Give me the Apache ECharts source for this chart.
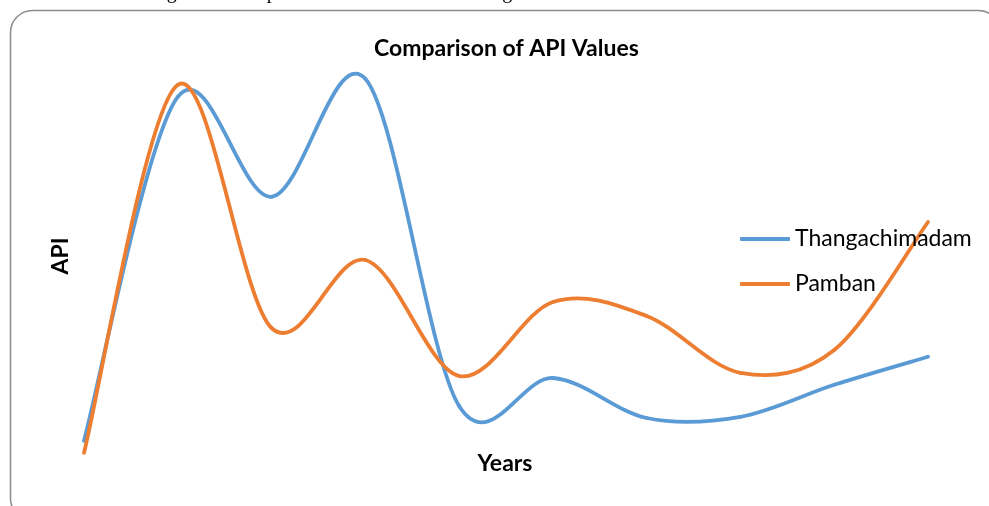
<!DOCTYPE html>
<html>
<head>
    <meta charset="utf-8">
    <script src="https://cdn.jsdelivr.net/npm/echarts@6/dist/echarts.min.js"></script>
    <style>
        html, body { margin: 0; padding: 0; background: #fff; }
    </style>
</head>
<body>
    <div id="main" style="width: 989px;height:506px;"></div>
	<script type="text/javascript">
        // data (no axis values shown, scale is relative 0-100)
        var years = ['1', '2', '3', '4', '5', '6', '7', '8', '9', '10'];
        var thangachimadam = [7.3, 93.3, 68.3, 97.8, 16, 23, 13, 13.3, 21.3, 28.3];
        var pamban = [4.3, 96.3, 35.5, 52.5, 23.5, 42, 38.5, 24.3, 30, 62];

        var colors = ['#5B9BD5', '#ED7D31'];

        // excel-like smoothing: one bezier segment per pair of points (catmull-rom, 1/6)
        function smoothSeries(name, values, color) {
            return {
                name: name,
                type: 'custom',
                data: values.map(function (v, i) { return [i, v]; }),
                itemStyle: { color: color },
                renderItem: function (params, api) {
                    var i = params.dataIndex;
                    var n = values.length;
                    if (i >= n - 1) return null;
                    var p0 = api.coord([Math.max(i - 1, 0), values[Math.max(i - 1, 0)]]);
                    var p1 = api.coord([i, values[i]]);
                    var p2 = api.coord([i + 1, values[i + 1]]);
                    var p3 = api.coord([Math.min(i + 2, n - 1), values[Math.min(i + 2, n - 1)]]);
                    return {
                        type: 'bezierCurve',
                        shape: {
                            x1: p1[0], y1: p1[1],
                            x2: p2[0], y2: p2[1],
                            cpx1: p1[0] + (p2[0] - p0[0]) / 6,
                            cpy1: p1[1] + (p2[1] - p0[1]) / 6,
                            cpx2: p2[0] - (p3[0] - p1[0]) / 6,
                            cpy2: p2[1] - (p3[1] - p1[1]) / 6
                        },
                        style: { fill: 'none', stroke: color, lineWidth: 3.8, lineCap: 'round' }
                    };
                }
            };
        }

        var myChart = echarts.init(document.getElementById('main'));
		myChart.setOption({
			animation: false,
			color: colors,
			title: {
				text: 'Comparison of API Values',
				left: 369,
				top: 32,
				textStyle: { fontFamily: 'Lato', fontWeight: 'bold', fontSize: 23, color: '#000' }
			},
			legend: {
				orient: 'vertical',
				left: 735,
				top: 222,
				itemWidth: 50,
				itemHeight: 4,
				itemGap: 21,
				icon: 'roundRect',
				textStyle: { fontFamily: 'Lato', fontSize: 23, color: '#000', lineHeight: 24 },
				data: ['Thangachimadam', 'Pamban']
			},
			grid: { left: 84, right: 61, top: 70, height: 400 },
			xAxis: {
				type: 'category',
				boundaryGap: false,
				data: years,
				axisLine: { show: false },
				axisTick: { show: false },
				axisLabel: { show: false },
				splitLine: { show: false }
			},
			yAxis: {
				type: 'value',
				min: 0,
				max: 100,
				axisLine: { show: false },
				axisTick: { show: false },
				axisLabel: { show: false },
				splitLine: { show: false }
			},
			series: [
				smoothSeries('Thangachimadam', thangachimadam, colors[0]),
				smoothSeries('Pamban', pamban, colors[1])
			],
			graphic: [{
				// cropped figure caption above the chart box
				type: 'text',
				left: 150,
				top: -17,
				style: {
					text: 'Figure 3: Comparison of API between Thangachimadam and Pamban',
					font: '20px "Liberation Serif"',
					fill: '#000'
				}
			}, {
				type: 'rect',
				shape: { x: 10.5, y: 10.5, width: 990, height: 510, r: 22 },
				style: { fill: 'none', stroke: '#8c8c8c', lineWidth: 1.5 },
				z: -1
			}, {
				type: 'text',
				x: 61,
				y: 256,
				rotation: Math.PI / 2,
				style: {
					text: 'API',
					font: 'bold 23px Lato',
					fill: '#000',
					align: 'center',
					verticalAlign: 'middle'
				}
			}, {
				type: 'text',
				x: 505,
				y: 464,
				style: {
					text: 'Years',
					font: 'bold 23px Lato',
					fill: '#000',
					align: 'center',
					verticalAlign: 'middle'
				}
			}]
		});
    </script>
</body>
</html>
